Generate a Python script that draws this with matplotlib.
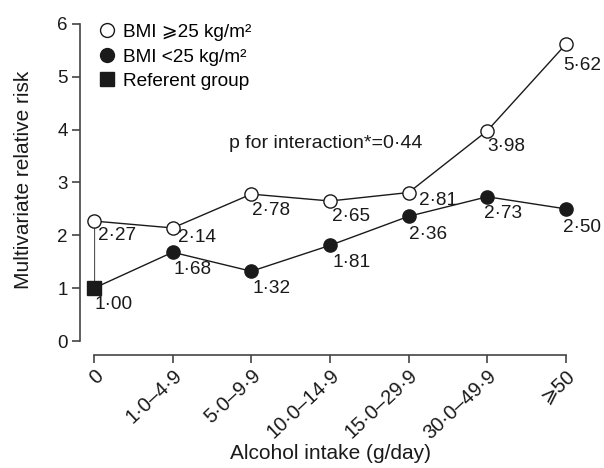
import numpy as np
import matplotlib.pyplot as plt
from matplotlib.lines import Line2D

# 数据
categories = ['0', '1·0–4·9', '5·0–9·9', '10·0–14·9', '15·0–29·9', '30·0–49·9', '⩾50']
bmi_high = [2.27, 2.14, 2.78, 2.65, 2.81, 3.98, 5.62]
bmi_low = [1.00, 1.68, 1.32, 1.81, 2.36, 2.73, 2.50]
high_labels = ['2·27', '2·14', '2·78', '2·65', '2·81', '3·98', '5·62']
low_labels = ['1·00', '1·68', '1·32', '1·81', '2·36', '2·73', '2·50']
p_text = 'p for interaction*=0·44'

plt.rcParams['font.family'] = ['Liberation Sans', 'DejaVu Sans']

fig = plt.figure(figsize=(6.04, 4.68), dpi=100)
ax = fig.add_axes([94/604, 1-341/468, 472/604, 317/468])

x = np.arange(len(categories))
ink = '#1a1a1a'

# 先设置坐标轴脊线（set_position 会重置刻度）
for s in ['top', 'right']:
    ax.spines[s].set_visible(False)
for s in ['left', 'bottom']:
    ax.spines[s].set_position(('outward', 10))
    ax.spines[s].set_color('#444444')
    ax.spines[s].set_linewidth(1.2)

# 参照组与BMI>=25的竖线
ax.plot([x[0], x[0]], [bmi_low[0], bmi_high[0]], color='#555555', lw=0.9, zorder=1)
ax.plot(x, bmi_high, color=ink, lw=1.0, marker='o', ms=9.5, mfc='white',
        mec=ink, mew=1.0, clip_on=False, zorder=3)
ax.plot(x[1:], bmi_low[1:], color=ink, lw=1.0, marker='o', ms=9.5, mfc=ink,
        mec=ink, clip_on=False, zorder=3)
ax.plot([x[0], x[1]], bmi_low[:2], color=ink, lw=1.0, zorder=2)
ax.plot(x[0], bmi_low[0], marker='s', ms=9.5, color=ink, ls='none',
        clip_on=False, zorder=4)

# 数值标签
high_off = [(4, -6), (5, -1), (1, -8), (2, -7), (10, 1), (0, -7), (-3, -13)]
low_off = [(1, -8), (1, -9), (1, -9), (2, -9), (0, -10), (-3, -8), (-3, -10)]
for i in range(len(x)):
    ax.annotate(high_labels[i], (x[i], bmi_high[i]), xytext=high_off[i],
                textcoords='offset pixels', ha='left', va='top', fontsize=13.7,
                color=ink, annotation_clip=False)
    ax.annotate(low_labels[i], (x[i], bmi_low[i]), xytext=low_off[i],
                textcoords='offset pixels', ha='left', va='top', fontsize=13.7,
                color=ink, annotation_clip=False)

ax.text(1.716, 3.74, p_text, fontsize=14, color=ink, va='center', ha='left')

# 坐标轴
ax.set_xlim(0, 6)
ax.set_ylim(0, 6)
ax.set_xticks(x)
ax.set_xticklabels(categories)
ax.set_yticks(range(7))
ax.tick_params(axis='y', labelsize=13.5, length=6, width=1.2, pad=3, colors='#444444',
               labelcolor=ink)
ax.tick_params(axis='x', labelsize=14.5, length=6, width=1.2, pad=2, colors='#444444',
               labelcolor=ink)
plt.setp(ax.get_xticklabels(), rotation=43, ha='right', va='top',
         rotation_mode='anchor')

ax.set_ylabel('Multivariate relative risk', fontsize=15, color=ink)
ax.set_xlabel('Alcohol intake (g/day)', fontsize=15, color=ink)
ax.yaxis.set_label_coords(-0.13, 0.51)
ax.xaxis.set_label_coords(0.5, -0.325)

# 图例
handles = [
    Line2D([], [], ls='none', marker='o', ms=10, mfc='white', mec=ink),
    Line2D([], [], ls='none', marker='o', ms=10, mfc=ink, mec=ink),
    Line2D([], [], ls='none', marker='s', ms=9.5, mfc=ink, mec=ink),
]
ax.legend(handles, ['BMI ⩾25 kg/m²', 'BMI <25 kg/m²', 'Referent group'],
          loc='upper left', bbox_to_anchor=(-0.008, 1.025), frameon=False,
          fontsize=13.7, handlelength=1.0, handletextpad=0.34, labelspacing=0.38,
          borderaxespad=0)

plt.savefig('out.png', dpi=100)
